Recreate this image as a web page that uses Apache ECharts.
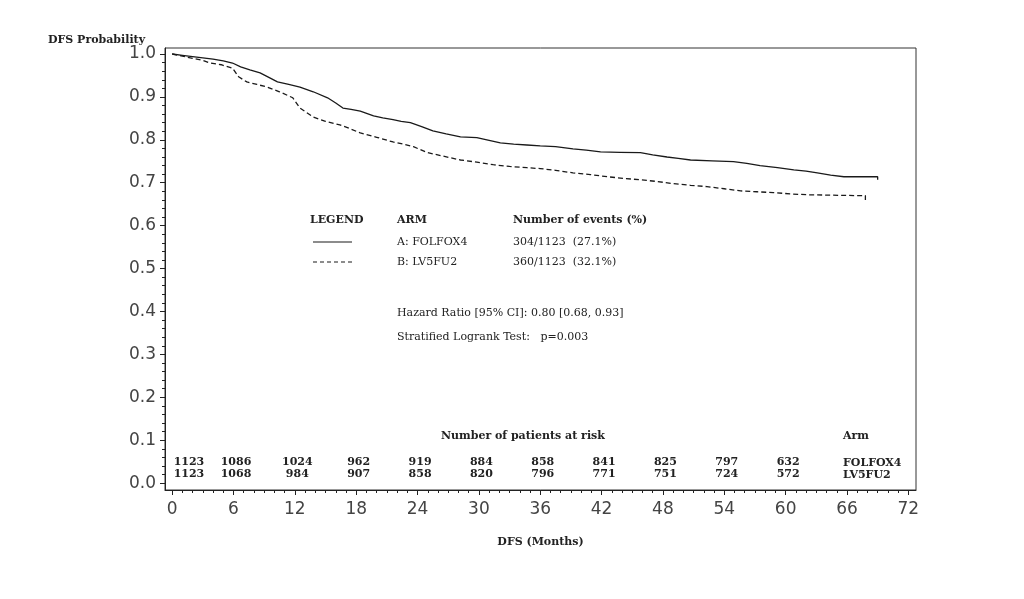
<!DOCTYPE html>
<html><head><meta charset="utf-8">
<script src="https://cdn.jsdelivr.net/npm/echarts@6/dist/echarts.min.js"></script>
<style>html,body{margin:0;padding:0;background:#fff}#c{width:1024px;height:599px}</style>
</head><body><div id="c"></div>
<script>
// Kaplan-Meier estimates
const folfoxMonths = [0,1,2,3,4,5,5.9,6.7,7.6,8.6,9.5,10.3,11.4,12.5,13.8,15.2,16,16.7,17.5,18.4,19.7,20.6,21.6,22.4,23.3,24.4,25.5,26.8,28.2,29.8,31,32.1,33.4,34.7,36,37.5,39.2,40.5,41.9,43.8,45.8,47,48.4,49.5,50.7,52.8,54.9,56.2,57.5,59.2,60.8,62,63.1,64.4,65.7,67.3,69.0,69.0];
const folfoxSurv = [1.0,0.997,0.994,0.991,0.988,0.984,0.979,0.970,0.963,0.956,0.945,0.935,0.929,0.923,0.912,0.898,0.886,0.874,0.871,0.867,0.856,0.851,0.847,0.843,0.840,0.831,0.821,0.814,0.807,0.805,0.799,0.793,0.790,0.788,0.786,0.784,0.779,0.776,0.772,0.771,0.770,0.765,0.760,0.757,0.753,0.751,0.749,0.745,0.740,0.735,0.730,0.727,0.723,0.718,0.714,0.714,0.714,0.707];
const lv5Months = [0,1,2,3,3.7,4.8,5.9,6.5,7.3,8.3,9.3,10.5,11.8,12.5,13.8,15,16.4,17.4,18.4,20,21.6,22.6,23.6,25,26.5,28.2,29.8,31.4,33,34.7,36,37.5,39.2,40.9,42.6,44.2,45.8,47.4,49,50.7,52.3,54,55.6,57.2,58.8,60.5,62.1,64.5,67.3,67.8,67.8];
const lv5Surv = [1.0,0.995,0.99,0.985,0.979,0.975,0.967,0.947,0.935,0.929,0.923,0.912,0.898,0.874,0.853,0.843,0.835,0.826,0.816,0.806,0.795,0.790,0.784,0.770,0.762,0.753,0.748,0.742,0.738,0.735,0.733,0.729,0.723,0.719,0.714,0.710,0.707,0.703,0.698,0.694,0.691,0.686,0.681,0.679,0.677,0.674,0.672,0.671,0.670,0.670,0.660];

const xTicks = [0,6,12,18,24,30,36,42,48,54,60,66,72];
const xMinorTicks = Array.from({length:73},(_,i)=>i);
const yTicks = [0,0.1,0.2,0.3,0.4,0.5,0.6,0.7,0.8,0.9,1.0];
const yMinorTicks = Array.from({length:51},(_,i)=>+(i*0.02).toFixed(2));

const riskMonths = [0,6,12,18,24,30,36,42,48,54,60];
const riskFolfox = [1123,1086,1024,962,919,884,858,841,825,797,632];
const riskLv5 = [1123,1068,984,907,858,820,796,771,751,724,572];
const armNames = ['FOLFOX4','LV5FU2'];
const armLabels = ['A: FOLFOX4','B: LV5FU2'];
const events = ['304/1123  (27.1%)','360/1123  (32.1%)'];

const serif = '"DejaVu Serif", serif';
const ink = '#222';

function zip(a,b){return a.map((v,i)=>[v,b[i]]);}
function riskData(vals,row){
  return riskMonths.map((m,i)=>{
    const d = {value:[m,row,vals[i]]};
    if(i===0) d.label = {align:'left', offset:[2,0]};
    return d;
  });
}
const riskLabel = {show:true, position:[0,0], align:'center', verticalAlign:'middle', formatter:p=>String(p.value[2]), fontFamily:serif, fontWeight:'bold', fontSize:11, color:ink, textBorderWidth:0, opacity:1, offset:[3,0]};

const chart = echarts.init(document.getElementById('c'), null, {renderer:'canvas'});
function txt(t,x,y,bold){
  return {type:'text', x:x, y:y, style:{text:t, fill:ink, font:(bold?'bold ':'')+'11px '+serif, align:'left', verticalAlign:'middle'}};
}
chart.setOption({
  backgroundColor:'#fff',
  animation:false,
  grid:{left:165, right:108, top:48, bottom:109, show:true, borderColor:'#333', borderWidth:1, backgroundColor:'transparent'},
  xAxis:[{
    type:'value', min:-0.7, max:72.75, position:'bottom',
    axisLine:{show:true, onZero:false, lineStyle:{color:'#222', width:1}},
    axisTick:{show:true, customValues:xTicks, length:5, inside:false, lineStyle:{color:'#222'}},
    axisLabel:{customValues:xTicks, fontFamily:'"DejaVu Sans", sans-serif', fontSize:17, color:'#444', margin:11},
    splitLine:{show:false},
    name:'DFS (Months)', nameLocation:'middle', nameGap:47,
    nameTextStyle:{fontFamily:serif, fontWeight:'bold', fontSize:11, color:ink}
  },{
    type:'value', min:-0.7, max:72.75, position:'bottom',
    axisLine:{show:false, onZero:false},
    axisTick:{show:true, customValues:xMinorTicks, length:3, inside:false, lineStyle:{color:'#222'}},
    axisLabel:{show:false}, splitLine:{show:false}
  }],
  yAxis:[{
    type:'value', min:-0.016, max:1.014, position:'left',
    axisLine:{show:true, onZero:false, lineStyle:{color:'#222', width:1}},
    axisTick:{show:true, customValues:yTicks, length:5, inside:false, lineStyle:{color:'#222'}},
    axisLabel:{customValues:yTicks, formatter:v=>v.toFixed(1), fontFamily:'"DejaVu Sans", sans-serif', fontSize:17, color:'#444', margin:9},
    splitLine:{show:false}
  },{
    type:'value', min:-0.016, max:1.014, position:'left',
    axisLine:{show:false, onZero:false},
    axisTick:{show:true, customValues:yMinorTicks, length:3, inside:false, lineStyle:{color:'#222'}},
    axisLabel:{show:false}, splitLine:{show:false}
  }],
  series:[{
    name:armNames[0], type:'line', data:zip(folfoxMonths,folfoxSurv),
    showSymbol:false, symbol:'none', lineStyle:{color:'#1a1a1a', width:1.3}, silent:true
  },{
    name:armNames[1], type:'line', data:zip(lv5Months,lv5Surv),
    showSymbol:false, symbol:'none', lineStyle:{color:'#1a1a1a', width:1.3, type:[5,3]}, silent:true
  },{
    type:'scatter', data:riskData(riskFolfox,0.047), symbolSize:1, itemStyle:{color:'rgba(0,0,0,0)'}, label:riskLabel, silent:true
  },{
    type:'scatter', data:riskData(riskLv5,0.019), symbolSize:1, itemStyle:{color:'rgba(0,0,0,0)'}, label:riskLabel, silent:true
  }],
  graphic:[
    txt('DFS Probability',48,40,true),
    txt('LEGEND',310,220,true),
    txt('ARM',397,220,true),
    txt('Number of events (%)',513,220,true),
    {type:'line', shape:{x1:313,y1:242,x2:352,y2:242}, style:{stroke:'#1a1a1a', lineWidth:1.2}},
    {type:'line', shape:{x1:313,y1:262,x2:352,y2:262}, style:{stroke:'#1a1a1a', lineWidth:1.2, lineDash:[4,3]}},
    txt(armLabels[0],397,242,false),
    txt(events[0],513,242,false),
    txt(armLabels[1],397,262,false),
    txt(events[1],513,262,false),
    txt('Hazard Ratio [95% CI]: 0.80 [0.68, 0.93]',397,313,false),
    txt('Stratified Logrank Test:   p=0.003',397,337,false),
    txt('Number of patients at risk',441,436,true),
    txt('Arm',843,436,true),
    txt(armNames[0],843,463,true),
    txt(armNames[1],843,475,true)
  ]
});
</script>
</body></html>
